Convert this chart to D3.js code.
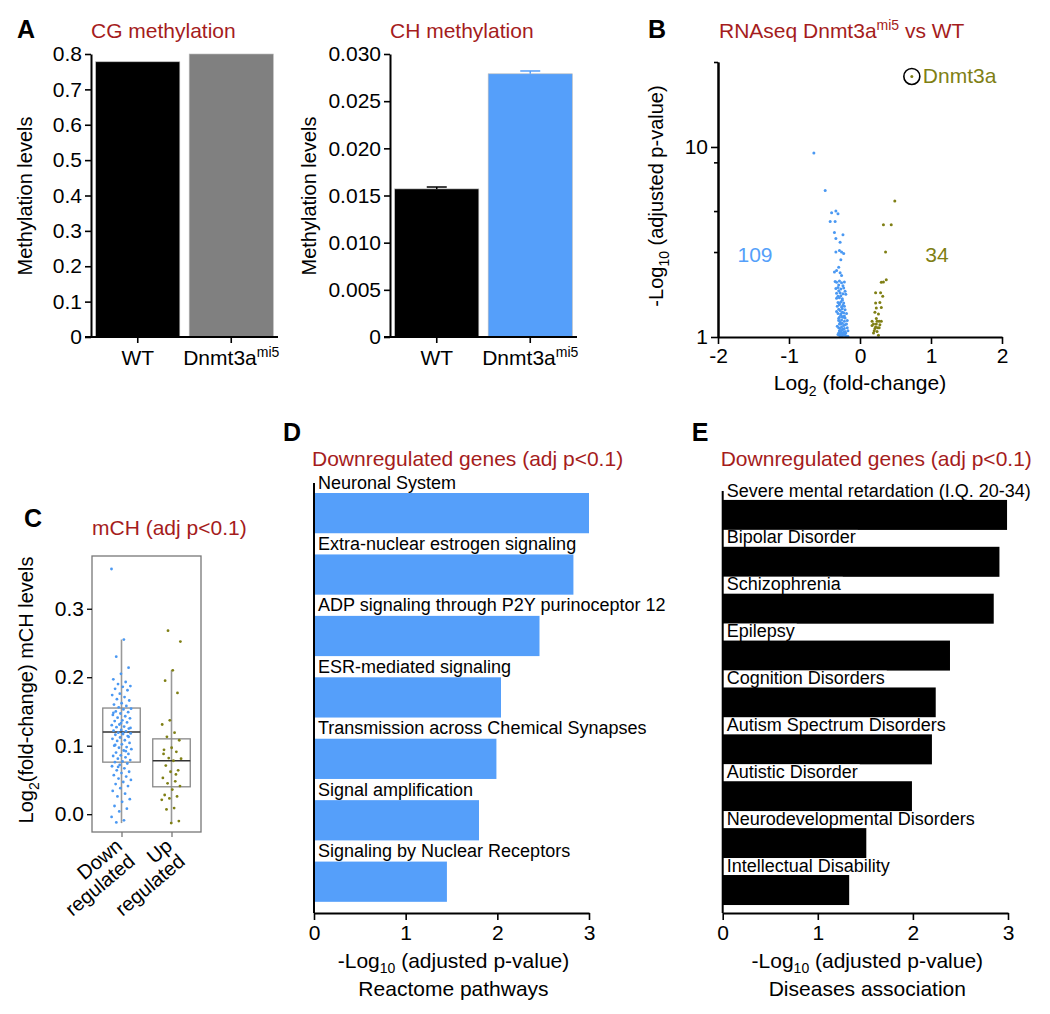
<!DOCTYPE html>
<html lang="en">
<head>
<meta charset="utf-8">
<script src="https://d3js.org/d3.v7.min.js"></script>
<style>
body { margin: 0; background: #fff; }
svg text { font-family: "Liberation Sans", Arial, sans-serif; fill: #000; }
.title { fill: #a51c1c; font-size: 21px; }
.plab { font-size: 25px; font-weight: bold; }
.axis path, .axis line { stroke: #000; }
</style>
</head>
<body>
<svg id="fig" width="1050" height="1014"></svg>
<script>
// ---- data ----
var groups = ["WT", "Dnmt3a"];
var cgLevels = [0.778, 0.80];
var chLevels = [0.0157, 0.0279];
var chErr = [0.0002, 0.0003];

// volcano: [log2 fold-change, -log10 adj p]
var downGenes = [[-0.65,9.3],[-0.49,5.9],[-0.40,4.5],[-0.34,4.6],[-0.31,4.45],[-0.42,4.05],[-0.35,4.05],[-0.36,3.55],[-0.24,3.45],[-0.34,3.3],
  [-0.28,3.15],[-0.34,2.8],[-0.29,2.85],[-0.26,2.8],[-0.23,2.75],[-0.27,2.55],[-0.30,2.33],[-0.36,2.2],[-0.33,2.24],[-0.28,2.18],[-0.26,2.11],
  [-0.35,1.96],[-0.33,1.94],[-0.29,1.97],[-0.26,1.93],[-0.22,1.95],[-0.30,1.88],[-0.24,1.86],[-0.34,1.80],[-0.31,1.82],[-0.27,1.79],[-0.23,1.81],
  [-0.30,1.75],[-0.21,1.74],[-0.33,1.70],[-0.28,1.71],[-0.24,1.69],[-0.20,1.68],[-0.27,1.65],[-0.31,1.64],[-0.33,1.60],[-0.29,1.61],[-0.25,1.59],
  [-0.25,1.56],[-0.31,1.52],[-0.27,1.53],[-0.23,1.51],[-0.29,1.50],[-0.29,1.48],[-0.24,1.47],[-0.32,1.45],[-0.26,1.44],[-0.22,1.45],[-0.30,1.40],
  [-0.25,1.41],[-0.21,1.39],[-0.28,1.38],[-0.33,1.36],[-0.25,1.35],[-0.31,1.33],[-0.27,1.32],[-0.23,1.34],[-0.19,1.33],[-0.27,1.30],[-0.22,1.29],
  [-0.29,1.27],[-0.25,1.28],[-0.21,1.26],[-0.30,1.25],[-0.24,1.27],[-0.30,1.22],[-0.26,1.23],[-0.22,1.21],[-0.18,1.22],[-0.28,1.20],[-0.29,1.17],
  [-0.25,1.18],[-0.21,1.16],[-0.27,1.17],[-0.23,1.15],[-0.19,1.17],[-0.32,1.14],[-0.30,1.12],[-0.26,1.13],[-0.22,1.11],[-0.18,1.12],[-0.28,1.11],
  [-0.24,1.10],[-0.29,1.08],[-0.25,1.09],[-0.21,1.07],[-0.17,1.08],[-0.27,1.07],[-0.23,1.06],[-0.30,1.05],[-0.26,1.05],[-0.22,1.04],[-0.28,1.04],
  [-0.20,1.05],[-0.24,1.04],[-0.29,1.02],[-0.25,1.02],[-0.21,1.02],[-0.17,1.01],[-0.27,1.01],[-0.23,1.02],[-0.19,1.01],[-0.31,1.03],[-0.26,1.01]];
var upGenes = [[0.49,5.2],[0.33,3.9],[0.44,3.9],[0.36,2.8],[0.30,1.94],[0.33,1.95],[0.37,2.0],[0.22,1.71],[0.29,1.71],[0.32,1.64],
  [0.22,1.51],[0.28,1.52],[0.23,1.42],[0.30,1.43],[0.26,1.32],[0.17,1.21],[0.24,1.21],[0.27,1.21],[0.30,1.21],[0.19,1.17],[0.23,1.17],
  [0.17,1.15],[0.21,1.11],[0.25,1.12],[0.20,1.08],[0.24,1.07],[0.27,1.12],[0.26,1.02],[0.22,1.13],[0.28,1.16],[0.19,1.05],[0.23,1.25],[0.21,1.35]];
var dnmt3aGene = [0.73, 23.5];
var volcanoCounts = ["109", "34"];

// box plot (mCH change)
var boxGroups = ["Down", "Up"];
var boxQ1 = [0.076, 0.040];
var boxMedian = [0.120, 0.078];
var boxQ3 = [0.155, 0.110];
var whiskLo = [-0.013, -0.014];
var whiskHi = [0.255, 0.210];
var mchDown = [0.358,0.255,0.230,0.214,0.205,0.197,0.193,0.190,0.187,0.186,0.183,0.181,0.176,0.174,0.171,0.168,0.166,0.162,0.160,0.158,
  0.156,0.154,0.153,0.150,0.149,0.147,0.145,0.143,0.141,0.140,0.137,0.136,0.134,0.131,0.130,0.128,0.127,0.125,0.123,0.122,
  0.121,0.119,0.118,0.117,0.116,0.114,0.112,0.110,0.108,0.107,0.104,0.102,0.100,0.098,0.097,0.095,0.093,0.090,0.088,0.086,
  0.085,0.083,0.081,0.079,0.077,0.076,0.074,0.072,0.070,0.067,0.064,0.062,0.060,0.057,0.055,0.052,0.050,0.047,0.044,0.041,
  0.038,0.034,0.030,0.026,0.022,0.018,0.012,0.008,0.004,-0.004,-0.009,-0.012,0.113,0.133,0.148,0.092,0.069,0.126,0.118,0.101];
var mchUp = [0.268,0.252,0.210,0.195,0.177,0.137,0.131,0.119,0.113,0.108,0.097,0.094,0.091,0.082,0.081,0.078,0.071,
  0.064,0.062,0.053,0.048,0.045,0.041,0.036,0.028,0.026,0.023,0.021,0.009,0.007,-0.010,-0.013,0.088,0.058];

// enrichment
var pathways = ["Neuronal System", "Extra-nuclear estrogen signaling", "ADP signaling through P2Y purinoceptor 12",
  "ESR-mediated signaling", "Transmission across Chemical Synapses", "Signal amplification", "Signaling by Nuclear Receptors"];
var pathwayScores = [3.0, 2.83, 2.46, 2.04, 1.99, 1.80, 1.45];
var diseases = ["Severe mental retardation (I.Q. 20-34)", "Bipolar Disorder", "Schizophrenia", "Epilepsy", "Cognition Disorders",
  "Autism Spectrum Disorders", "Autistic Disorder", "Neurodevelopmental Disorders", "Intellectual Disability"];
var diseaseScores = [2.99, 2.91, 2.85, 2.39, 2.24, 2.20, 1.99, 1.51, 1.33];

var blue = "#559ffa", olive = "#7f7f14", dotBlue = "#4a98f2";
var svg = d3.select("#fig");

function styleAxis(g, w) {
  g.attr("class", "axis");
  g.select(".domain").attr("stroke-width", w || 2);
  g.selectAll(".tick line").attr("stroke-width", 1.6);
  g.selectAll(".tick text").style("font-size", "21px");
}

// label with superscript mi5
function groupLabel(t, name) {
  t.text(name === "WT" ? "WT" : "Dnmt3a");
  if (name !== "WT") {
    t.append("tspan").style("font-size", "14px").attr("dy", -8).text("mi5");
  }
}

// ---- panel A ----
function methPanel(left, right, max, ticks, fmt, values, err, colors, title, labelX) {
  var y = d3.scaleLinear().domain([0, max]).range([337, 54]);
  var x = d3.scaleBand().domain(groups).range([left, right]).paddingInner(0.1).paddingOuter(0.05);
  var g = svg.append("g");
  g.selectAll("rect.bar").data(values).enter().append("rect")
    .attr("x", function(d, i) { return x(groups[i]); })
    .attr("y", function(d) { return y(d); })
    .attr("width", x.bandwidth())
    .attr("height", function(d) { return y(0) - y(d); })
    .attr("fill", function(d, i) { return colors[i]; })
    .attr("stroke", "#bbb").attr("stroke-width", 0.6);
  if (err) {
    values.forEach(function(v, i) {
      var cx = x(groups[i]) + x.bandwidth() / 2;
      g.append("line").attr("x1", cx).attr("x2", cx).attr("y1", y(v)).attr("y2", y(v + err[i]))
        .attr("stroke", colors[i]).attr("stroke-width", 1.5);
      g.append("line").attr("x1", cx - 10).attr("x2", cx + 10).attr("y1", y(v + err[i])).attr("y2", y(v + err[i]))
        .attr("stroke", colors[i]).attr("stroke-width", 1.5);
    });
  }
  var ya = g.append("g").attr("transform", "translate(" + left + ",0)")
    .call(d3.axisLeft(y).tickValues(ticks).tickFormat(fmt).tickSize(6).tickSizeOuter(0).tickPadding(3));
  styleAxis(ya);
  var xa = g.append("g").attr("transform", "translate(0,337)")
    .call(d3.axisBottom(x).tickSize(6).tickSizeOuter(0));
  styleAxis(xa);
  xa.select(".domain").attr("d", "M" + (left - 6) + ",0H" + right);
  xa.selectAll(".tick text").each(function(d) {
    var t = d3.select(this).text("").attr("y", 8).attr("dy", "0.95em");
    groupLabel(t, d);
  });
  g.append("text").attr("class", "title").attr("x", left).attr("y", 38).text(title);
  g.append("text").attr("transform", "translate(" + labelX + ",196) rotate(-90)")
    .attr("text-anchor", "middle").style("font-size", "20px").text("Methylation levels");
}
methPanel(91, 278, 0.8, d3.range(0, 0.81, 0.1), function(d) { return d === 0 ? "0" : d3.format(".1f")(d); },
  cgLevels, null, ["#000", "#808080"], "CG methylation", 32);
methPanel(390, 577, 0.03, d3.range(0, 0.0301, 0.005), function(d) { return d === 0 ? "0" : d3.format(".3f")(d); },
  chLevels, chErr, ["#000", blue], "CH methylation", 316);
svg.append("text").attr("class", "plab").attr("x", 17).attr("y", 38).text("A");

// ---- panel B: volcano ----
(function() {
  var x = d3.scaleLinear().domain([-2, 2]).range([718, 1002]);
  var y = d3.scaleLog().domain([1, 28]).range([337, 62]);
  var g = svg.append("g");
  g.selectAll("circle.dn").data(downGenes).enter().append("circle")
    .attr("cx", function(d) { return x(d[0]); }).attr("cy", function(d) { return y(d[1]); })
    .attr("r", 1.5).attr("fill", dotBlue);
  g.selectAll("circle.up").data(upGenes).enter().append("circle")
    .attr("cx", function(d) { return x(d[0]); }).attr("cy", function(d) { return y(d[1]); })
    .attr("r", 1.5).attr("fill", olive);
  g.append("circle").attr("cx", x(dnmt3aGene[0])).attr("cy", y(dnmt3aGene[1])).attr("r", 1.5).attr("fill", olive);
  g.append("circle").attr("cx", x(dnmt3aGene[0])).attr("cy", y(dnmt3aGene[1])).attr("r", 8)
    .attr("fill", "none").attr("stroke", "#000").attr("stroke-width", 1.6);
  g.append("text").attr("x", x(dnmt3aGene[0]) + 11).attr("y", y(dnmt3aGene[1]) + 7)
    .style("font-size", "21px").style("fill", olive).text("Dnmt3a");
  var ya = g.append("g").attr("transform", "translate(718,0)")
    .call(d3.axisLeft(y).tickValues([1, 10]).tickFormat(d3.format("d")).tickSize(7).tickSizeOuter(0).tickPadding(3));
  styleAxis(ya);
  var ym = g.append("g").attr("transform", "translate(718,0)")
    .call(d3.axisLeft(y).tickValues([2.8, 4.6, 8.3, 28]).tickFormat("").tickSize(4).tickSizeOuter(0));
  styleAxis(ym);
  var xa = g.append("g").attr("transform", "translate(0,337)")
    .call(d3.axisBottom(x).tickValues([-2, -1, 0, 1, 2]).tickFormat(d3.format("d")).tickSize(7).tickSizeOuter(0).tickPadding(4));
  styleAxis(xa);
  xa.selectAll(".tick text").text(function(d) { return d < 0 ? "-" + (-d) : d; });
  g.append("text").attr("x", 755).attr("y", 262).attr("text-anchor", "middle").style("font-size", "21px")
    .style("fill", blue).text(volcanoCounts[0]);
  g.append("text").attr("x", 937).attr("y", 262).attr("text-anchor", "middle").style("font-size", "21px")
    .style("fill", olive).text(volcanoCounts[1]);
  var xl = g.append("text").attr("x", 860).attr("y", 390).attr("text-anchor", "middle").style("font-size", "21px").text("Log");
  xl.append("tspan").style("font-size", "14px").attr("dy", 6).text("2");
  xl.append("tspan").attr("dy", -6).text(" (fold-change)");
  var yl = g.append("text").attr("transform", "translate(663,196) rotate(-90)").attr("text-anchor", "middle")
    .style("font-size", "20px").text("-Log");
  yl.append("tspan").style("font-size", "14px").attr("dy", 6).text("10");
  yl.append("tspan").attr("dy", -6).text(" (adjusted p-value)");
  var t = g.append("text").attr("class", "title").attr("x", 719).attr("y", 38).text("RNAseq Dnmt3a");
  t.append("tspan").style("font-size", "14px").attr("dy", -8).text("mi5");
  t.append("tspan").attr("dy", 8).text(" vs WT");
  svg.append("text").attr("class", "plab").attr("x", 648).attr("y", 38).text("B");
})();

// ---- panel C: box plot ----
(function() {
  var y = d3.scaleLinear().domain([-0.026, 0.377]).range([832, 556]);
  var x = d3.scalePoint().domain(boxGroups).range([92, 201]).padding(0.59);
  var bw = 37.5;
  var g = svg.append("g");
  g.append("rect").attr("x", 92).attr("y", 556).attr("width", 109).attr("height", 276)
    .attr("fill", "none").attr("stroke", "#777").attr("stroke-width", 1.3);
  boxGroups.forEach(function(k, i) {
    var cx = x(k);
    g.append("line").attr("x1", cx).attr("x2", cx).attr("y1", y(whiskLo[i])).attr("y2", y(whiskHi[i]))
      .attr("stroke", "#999").attr("stroke-width", 1.6);
    g.append("rect").attr("x", cx - bw / 2).attr("y", y(boxQ3[i])).attr("width", bw)
      .attr("height", y(boxQ1[i]) - y(boxQ3[i])).attr("fill", "none").attr("stroke", "#888").attr("stroke-width", 1.3);
    g.append("line").attr("x1", cx - bw / 2).attr("x2", cx + bw / 2).attr("y1", y(boxMedian[i])).attr("y2", y(boxMedian[i]))
      .attr("stroke", "#333").attr("stroke-width", 1.6);
  });
  function jitter(i) { return ((i * 0.618034) % 1 - 0.5) * 20; }
  g.selectAll("circle.d").data(mchDown).enter().append("circle")
    .attr("cx", function(d, i) { return x("Down") + jitter(i); }).attr("cy", function(d) { return y(d); })
    .attr("r", 1.4).attr("fill", dotBlue);
  g.selectAll("circle.u").data(mchUp).enter().append("circle")
    .attr("cx", function(d, i) { return x("Up") + jitter(i + 7); }).attr("cy", function(d) { return y(d); })
    .attr("r", 1.4).attr("fill", olive);
  var ya = g.append("g").attr("transform", "translate(92,0)")
    .call(d3.axisLeft(y).tickValues([0, 0.1, 0.2, 0.3]).tickFormat(d3.format(".1f")).tickSize(5).tickSizeOuter(0).tickPadding(3));
  ya.attr("class", "axis");
  ya.select(".domain").remove();
  ya.selectAll(".tick line").attr("stroke", "#777").attr("stroke-width", 1.3);
  ya.selectAll(".tick text").style("font-size", "21px");
  var xa = g.append("g").attr("transform", "translate(0,832)")
    .call(d3.axisBottom(x).tickSize(5).tickSizeOuter(0).tickFormat(""));
  xa.select(".domain").remove();
  xa.selectAll(".tick line").attr("stroke", "#777").attr("stroke-width", 1.3);
  boxGroups.forEach(function(k) {
    var t = g.append("text").attr("transform", "translate(" + (x(k) + 2) + ",848) rotate(-40)")
      .attr("text-anchor", "end").style("font-size", "20px");
    t.append("tspan").attr("x", 0).attr("dy", 0).text(k);
    t.append("tspan").attr("x", 0).attr("dy", "1.0em").text("regulated");
  });
  var yl = g.append("text").attr("transform", "translate(33,690) rotate(-90)").attr("text-anchor", "middle")
    .style("font-size", "20px").text("Log");
  yl.append("tspan").style("font-size", "14px").attr("dy", 6).text("2");
  yl.append("tspan").attr("dy", -6).text("(fold-change) mCH levels");
  g.append("text").attr("class", "title").attr("x", 92).attr("y", 535).text("mCH (adj p<0.1)");
  svg.append("text").attr("class", "plab").attr("x", 24).attr("y", 527).text("C");
})();

// ---- panels D and E: enrichment bars ----
function enrichPanel(x0, x3, top, names, scores, color, barOff, barFrac, labelBg, subtitle, letter) {
  var x = d3.scaleLinear().domain([0, 3]).range([x0, x3]);
  var y = d3.scaleBand().domain(names).range([top, 913]);
  var step = y.bandwidth();
  var g = svg.append("g");
  g.selectAll("rect.bar").data(scores).enter().append("rect")
    .attr("x", x0).attr("y", function(d, i) { return y(names[i]) + step * barOff; })
    .attr("width", function(d) { return x(d) - x0; })
    .attr("height", step * barFrac).attr("fill", color);
  names.forEach(function(n) {
    var t = g.append("text").attr("x", x0 + 4).attr("y", y(n) + 5.5).style("font-size", "18px").text(n);
    if (labelBg) {
      var len = t.node().getComputedTextLength();
      g.insert("rect", "text").attr("x", x0).attr("y", y(n) - 8).attr("width", len + 6).attr("height", 16).attr("fill", "#fff");
    }
  });
  g.append("line").attr("x1", x0).attr("x2", x0).attr("y1", top).attr("y2", 913)
    .attr("stroke", "#000").attr("stroke-width", 2);
  var xa = g.append("g").attr("transform", "translate(0,913)")
    .call(d3.axisBottom(x).tickValues([0, 1, 2, 3]).tickFormat(d3.format("d")).tickSize(7).tickSizeOuter(0).tickPadding(5));
  styleAxis(xa);
  var cx = (x0 + x3) / 2 + 2;
  var t1 = g.append("text").attr("x", cx).attr("y", 968).attr("text-anchor", "middle").style("font-size", "21px").text("-Log");
  t1.append("tspan").style("font-size", "14px").attr("dy", 5).text("10");
  t1.append("tspan").attr("dy", -5).text(" (adjusted p-value)");
  g.append("text").attr("x", cx).attr("y", 996).attr("text-anchor", "middle").style("font-size", "21px").text(subtitle);
  g.append("text").attr("class", "title").attr("x", x0 - 2).attr("y", 466).text("Downregulated genes (adj p<0.1)");
  svg.append("text").attr("class", "plab").attr("x", x0 - 31).attr("y", 441).text(letter);
}
enrichPanel(314, 589, 483, pathways, pathwayScores, blue, 0.163, 0.655, false, "Reactome pathways", "D");
enrichPanel(722.7, 1008, 491, diseases, diseaseScores, "#000", 0.19, 0.64, true, "Diseases association", "E");
</script>
</body>
</html>
